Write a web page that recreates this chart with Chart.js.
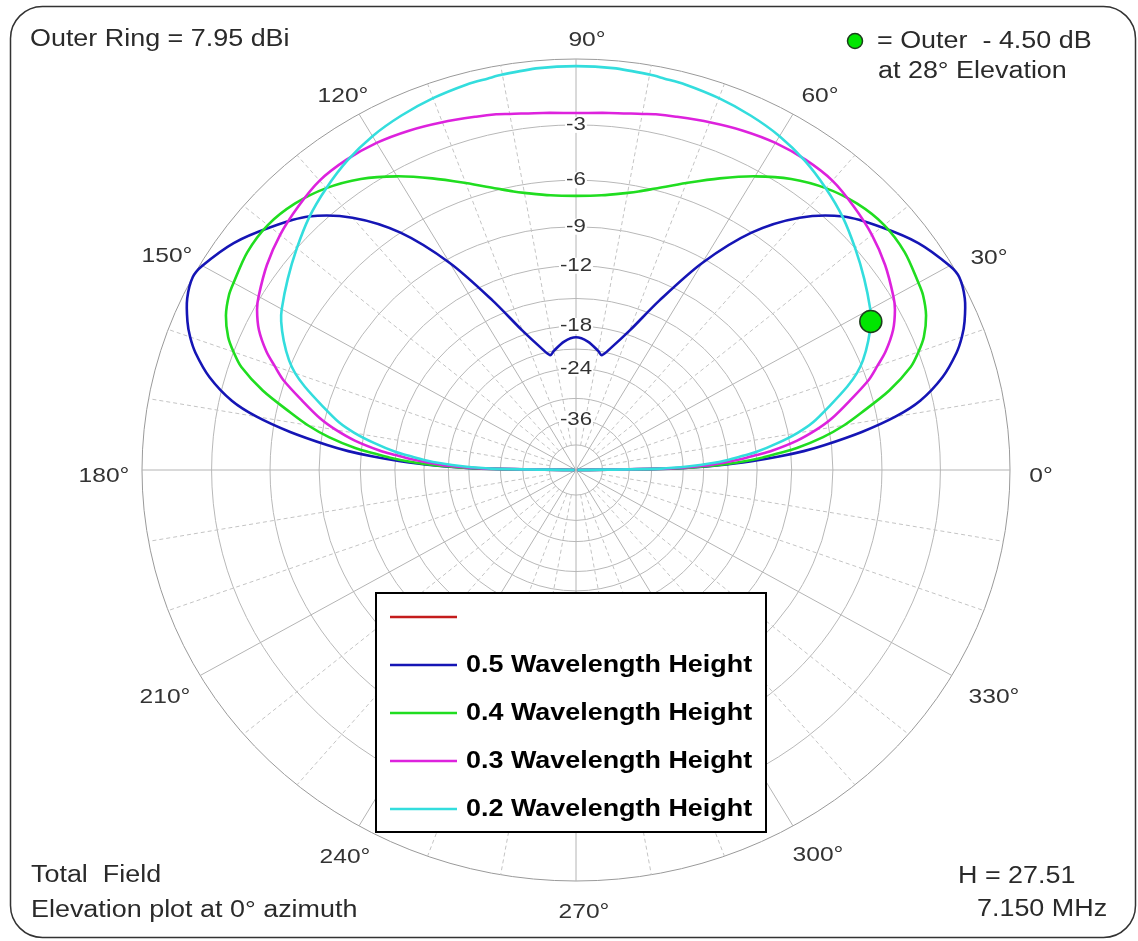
<!DOCTYPE html>
<html>
<head>
<meta charset="utf-8">
<script src="https://cdn.jsdelivr.net/npm/chart.js@4.4.0/dist/chart.umd.min.js"></script>
<style>
html,body{margin:0;padding:0;background:#fff;overflow:hidden}
canvas{display:block}
</style>
</head>
<body>
<canvas id="c" width="1138" height="941"></canvas>
<script>
// ---------- DATA ----------
const ELEVATION_DEG = [0,1,2,3,4,5,6,8,10,12,15,18,20,22,25,28,30,35,40,45,50,55,60,65,70,75,78,80,85,90,
  95,100,102,105,110,115,120,125,130,135,140,145,150,152,155,158,160,162,165,168,170,172,174,175,176,177,178,179,180];

// dB relative to outer ring
const H05_DB = [-99,-25,-19,-15.5,-13,-11,-9.5,-7,-5,-3.6,-2.3,-1.4,-0.95,-0.6,-0.2,0,-0.1,-0.65,-1.45,-2.35,-3.8,-6.0,-9.3,-13.5,-17.5,-20.3,-21.5,-21.0,-19.9,-19.4,
  -19.9,-21.0,-21.5,-20.3,-17.5,-13.5,-9.3,-6.0,-3.8,-2.35,-1.45,-0.65,-0.1,0,-0.2,-0.6,-0.95,-1.4,-2.3,-3.6,-5,-7,-9.5,-11,-13,-15.5,-19,-25,-99];
const H04_DB = [-99,-25.5,-19.5,-16.5,-14.5,-13,-11.5,-9.5,-8.0,-6.8,-5.0,-3.6,-3.0,-2.5,-2.0,-1.7,-1.6,-1.35,-1.3,-1.5,-1.9,-2.5,-3.3,-4.2,-5.1,-5.9,-6.3,-6.5,-6.85,-6.95,
  -6.85,-6.5,-6.3,-5.9,-5.1,-4.2,-3.3,-2.5,-1.9,-1.5,-1.3,-1.35,-1.6,-1.7,-2.0,-2.5,-3.0,-3.6,-5.0,-6.8,-8.0,-9.5,-11.5,-13,-14.5,-16.5,-19.5,-25.5,-99];
const H03_DB = [-99,-26,-21,-18.5,-16.5,-15,-13.5,-11.4,-9.9,-8.7,-7.3,-5.9,-5.2,-4.5,-3.7,-3.15,-2.9,-2.4,-2.0,-1.7,-1.45,-1.4,-1.45,-1.6,-1.8,-2.0,-2.1,-2.2,-2.35,-2.42,
  -2.35,-2.2,-2.1,-2.0,-1.8,-1.6,-1.45,-1.4,-1.45,-1.7,-2.0,-2.4,-2.9,-3.15,-3.7,-4.5,-5.2,-5.9,-7.3,-8.7,-9.9,-11.4,-13.5,-15,-16.5,-18.5,-21,-26,-99];
const H02_DB = [-99,-28,-23,-20,-18,-16.5,-15,-13,-11.3,-10,-8.6,-7.2,-6.4,-5.8,-5.1,-4.5,-4.2,-3.6,-3.0,-2.4,-1.9,-1.45,-1.1,-0.85,-0.65,-0.5,-0.45,-0.4,-0.32,-0.3,
  -0.32,-0.4,-0.45,-0.5,-0.65,-0.85,-1.1,-1.45,-1.9,-2.4,-3.0,-3.6,-4.2,-4.5,-5.1,-5.8,-6.4,-7.2,-8.6,-10,-11.3,-13,-15,-16.5,-18,-20,-23,-28,-99];

const SERIES_LABELS = ['', '0.5 Wavelength Height', '0.4 Wavelength Height', '0.3 Wavelength Height', '0.2 Wavelength Height'];
const RING_DB = [0,-3,-6,-9,-12,-15,-18,-21,-24,-30,-36,-48];
const RING_LABEL_DB = [-3,-6,-9,-12,-18,-24,-36];
const ANGLE_TICKS = [0,30,60,90,120,150,180,210,240,270,300,330];
const OUTER_RING_DBI = 7.95;
const MARKER_ELEV = 28;
const MARKER_DB = -4.50;
const FREQ_MHZ = '7.150';
const H_VALUE = '27.51';

// ---------- helpers ----------
const arrl = db => Math.pow(0.89, -db / 2);     // ARRL log scale radius fraction
function toXY(angles, dbs) {
  return angles.map((a, i) => {
    const r = arrl(dbs[i]), t = a * Math.PI / 180;
    return { x: r * Math.cos(t), y: r * Math.sin(t) };
  });
}
const SX = 1.17;
const FONT = '"Liberation Sans", Arial, sans-serif';
function txt(ctx, s, x, y, size, align, color, bold) {
  ctx.save();
  ctx.font = (bold ? 'bold ' : '') + size + 'px ' + FONT;
  ctx.fillStyle = color;
  ctx.textBaseline = 'middle';
  ctx.textAlign = 'left';
  const w = ctx.measureText(s).width * SX;
  const left = align === 'center' ? x - w / 2 : align === 'right' ? x - w : x;
  ctx.translate(left, y);
  ctx.scale(SX, 1);
  ctx.fillText(s, 0, 0);
  ctx.restore();
  return w;
}

// label centre offsets (px) from plot centre for angle ticks
const ANGLE_LABEL_OFFSETS = {
  0:[465,6], 30:[413,-212], 60:[244,-374], 90:[11,-430], 120:[-233,-374], 150:[-409,-214],
  180:[-472,6], 210:[-411,227], 240:[-231,387], 270:[8,442], 300:[242,385], 330:[418,227]
};

const gridPlugin = {
  id: 'polarGrid',
  beforeDatasetsDraw(chart) {
    const ctx = chart.ctx, xs = chart.scales.x, ys = chart.scales.y;
    const cx = xs.getPixelForValue(0), cy = ys.getPixelForValue(0);
    const rx = xs.getPixelForValue(1) - cx, ry = cy - ys.getPixelForValue(1);
    ctx.save();
    // rings
    ctx.lineWidth = 1;
    RING_DB.forEach(db => {
      const f = arrl(db);
      ctx.strokeStyle = db === 0 ? '#9a9a9a' : '#b8b8b8';
      ctx.beginPath();
      ctx.ellipse(cx, cy, rx * f, ry * f, 0, 0, Math.PI * 2);
      ctx.stroke();
    });
    // spokes
    const inner = arrl(-48);
    for (let a = 0; a < 360; a += 10) {
      const t = a * Math.PI / 180, c = Math.cos(t), s = Math.sin(t);
      const solid = a % 30 === 0;
      const r0 = solid ? 0 : inner;
      ctx.strokeStyle = solid ? '#b4b4b4' : '#c4c4c4';
      ctx.setLineDash(solid ? [] : [4, 3]);
      ctx.beginPath();
      ctx.moveTo(cx + rx * r0 * c, cy - ry * r0 * s);
      ctx.lineTo(cx + rx * c, cy - ry * s);
      ctx.stroke();
    }
    ctx.setLineDash([]);
    // ring labels
    RING_LABEL_DB.forEach(db => {
      const y = cy - ry * arrl(db);
      ctx.font = '19px ' + FONT;
      const w = ctx.measureText(String(db)).width * SX;
      ctx.fillStyle = '#fff';
      ctx.fillRect(cx - w / 2 - 1, y - 8, w + 2, 16);
      txt(ctx, String(db), cx, y, 19, 'center', '#333');
    });
    // angle labels
    ANGLE_TICKS.forEach(a => {
      const o = ANGLE_LABEL_OFFSETS[a];
      txt(ctx, a + '\u00b0', cx + o[0], cy + o[1], 21, 'center', '#333');
    });
    ctx.restore();
  },
  afterDraw(chart) {
    const ctx = chart.ctx;
    ctx.save();
    // frame
    ctx.strokeStyle = '#333';
    ctx.lineWidth = 1.5;
    ctx.beginPath();
    ctx.roundRect(10.5, 6.5, 1125, 931, 32);
    ctx.stroke();
    // corner texts
    txt(ctx, 'Outer Ring = ' + OUTER_RING_DBI.toFixed(2) + ' dBi', 30, 40, 23, 'left', '#2a2a2a');
    txt(ctx, 'Total  Field', 31, 876, 23, 'left', '#2a2a2a');
    txt(ctx, 'Elevation plot at 0\u00b0 azimuth', 31, 911, 23, 'left', '#2a2a2a');
    txt(ctx, 'H = ' + H_VALUE, 958, 877, 23, 'left', '#2a2a2a');
    txt(ctx, FREQ_MHZ + ' MHz', 977, 910, 23, 'left', '#2a2a2a');
    // marker key
    ctx.beginPath();
    ctx.arc(855, 41, 7.5, 0, Math.PI * 2);
    ctx.fillStyle = '#00e600';
    ctx.fill();
    ctx.lineWidth = 1.5;
    ctx.strokeStyle = '#1d3d1d';
    ctx.stroke();
    txt(ctx, '= Outer  - ' + Math.abs(MARKER_DB).toFixed(2) + ' dB', 877, 42, 23, 'left', '#2a2a2a');
    txt(ctx, 'at ' + MARKER_ELEV + '\u00b0 Elevation', 878, 72, 23, 'left', '#2a2a2a');
    // legend box
    ctx.fillStyle = '#fff';
    ctx.fillRect(376, 593, 390, 239);
    ctx.lineWidth = 2;
    ctx.strokeStyle = '#000';
    ctx.strokeRect(376, 593, 390, 239);
    const items = chart.data.datasets.filter(d => d.inLegend);
    items.forEach((d, i) => {
      const y = 617 + i * 48;
      ctx.strokeStyle = d.borderColor;
      ctx.lineWidth = 2.5;
      ctx.beginPath();
      ctx.moveTo(390, y);
      ctx.lineTo(457, y);
      ctx.stroke();
      if (d.label) txt(ctx, d.label, 466, y + 1, 23, 'left', '#000', true);
    });
    ctx.restore();
  }
};

const COLORS = ['#c41c1c', '#1515b5', '#20dd20', '#dd22dd', '#33dddd'];
function lineDs(label, color, data, order) {
  return { label, data, borderColor: color, backgroundColor: color, showLine: true,
    pointRadius: 0, borderWidth: 2.6, tension: 0.3, fill: false, clip: false, order, inLegend: true };
}

new Chart(document.getElementById('c'), {
  type: 'scatter',
  data: {
    datasets: [
      { label: 'marker', data: toXY([MARKER_ELEV], [MARKER_DB]), pointRadius: 11, pointBackgroundColor: '#00e600',
        pointBorderColor: '#1d3d1d', pointBorderWidth: 1.5, showLine: false, order: 0, clip: false },
      lineDs(SERIES_LABELS[0], COLORS[0], [], 6),
      lineDs(SERIES_LABELS[1], COLORS[1], toXY(ELEVATION_DEG, H05_DB), 5),
      lineDs(SERIES_LABELS[2], COLORS[2], toXY(ELEVATION_DEG, H04_DB), 4),
      lineDs(SERIES_LABELS[3], COLORS[3], toXY(ELEVATION_DEG, H03_DB), 3),
      lineDs(SERIES_LABELS[4], COLORS[4], toXY(ELEVATION_DEG, H02_DB), 2)
    ]
  },
  options: {
    responsive: false,
    devicePixelRatio: 1,
    animation: false,
    events: [],
    layout: { padding: { left: 142, right: 128, top: 59, bottom: 60 } },
    scales: {
      x: { type: 'linear', min: -1, max: 1, display: false },
      y: { type: 'linear', min: -1, max: 1, display: false }
    },
    plugins: { legend: { display: false }, tooltip: { enabled: false } }
  },
  plugins: [gridPlugin]
});
</script>
</body>
</html>
